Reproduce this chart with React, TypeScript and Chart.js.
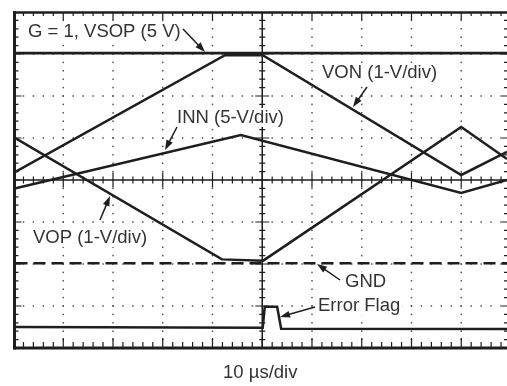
import React, { useEffect, useRef } from "react";
import { Chart, registerables } from "chart.js";

Chart.register(...registerables);

// Scope screen in division units: x 0..~9.92 (10 div, right edge cropped), y 0..8
const X_MAX = 9.92;
const Y_MAX = 8;

const vsopX = [0, 9.92];
const vsopY = [7.02, 7.02];

const vonX = [0, 4.25, 5.01, 9.0, 9.92];
const vonY = [4.17, 6.97, 6.97, 4.12, 4.67];

const vopX = [0, 4.19, 5.02, 9.0, 9.92];
const vopY = [5.02, 2.11, 2.08, 5.26, 4.5];

const innX = [0, 4.57, 9.0, 9.92];
const innY = [3.79, 5.07, 3.69, 4.0];

const gndX = [0, 9.92];
const gndY = [2.02, 2.02];

const flagX = [0, 5.01, 5.05, 5.3, 5.38, 9.92];
const flagY = [0.5, 0.48, 0.98, 0.98, 0.46, 0.45];

const xAxisLabel = "10 \u00b5s/div";

const annotations = [
  { text: "G = 1, VSOP (5 V)", x: 28, y: 37, ax1: 183, ay1: 29, ax2: 205, ay2: 52 },
  { text: "VON (1-V/div)", x: 322, y: 78, ax1: 367, ay1: 87, ax2: 353, ay2: 107 },
  { text: "INN (5-V/div)", x: 177, y: 123, ax1: 177, ay1: 127, ax2: 165, ay2: 150 },
  { text: "VOP (1-V/div)", x: 33, y: 243, ax1: 100, ay1: 220, ax2: 110, ay2: 196 },
  { text: "GND", x: 345, y: 287, ax1: 340, ay1: 280, ax2: 317, ay2: 264 },
  { text: "Error Flag", x: 318, y: 311, ax1: 315, ay1: 307, ax2: 280, ay2: 317 },
];

const FONT = '18.5px "Liberation Sans", Arial, sans-serif';
const INK = "#1e1e1e";
const TEXT = "#333333";

function pts(xs: number[], ys: number[]) {
  return xs.map((x, i) => ({ x, y: ys[i] }));
}

function drawArrow(ctx: CanvasRenderingContext2D, x1: number, y1: number, x2: number, y2: number) {
  const ang = Math.atan2(y2 - y1, x2 - x1);
  const L = 10;
  const W = 3.5;
  ctx.beginPath();
  ctx.moveTo(x1, y1);
  ctx.lineTo(x2 - Math.cos(ang) * (L - 2), y2 - Math.sin(ang) * (L - 2));
  ctx.lineWidth = 1.5;
  ctx.strokeStyle = INK;
  ctx.stroke();
  ctx.beginPath();
  ctx.moveTo(x2, y2);
  ctx.lineTo(x2 - Math.cos(ang) * L - Math.sin(ang) * W, y2 - Math.sin(ang) * L + Math.cos(ang) * W);
  ctx.lineTo(x2 - Math.cos(ang) * L + Math.sin(ang) * W, y2 - Math.sin(ang) * L - Math.cos(ang) * W);
  ctx.closePath();
  ctx.fillStyle = INK;
  ctx.fill();
}

const scopePlugin = {
  id: "scope",
  beforeDatasetsDraw(chart: any) {
    const { ctx, chartArea, scales } = chart;
    const xs = scales.x;
    const ys = scales.y;
    const { left, right, top, bottom } = chartArea;
    ctx.save();
    // dotted grid
    ctx.fillStyle = "#555";
    for (let i = 1; i <= 10; i++) {
      if (i === 5) continue;
      const px = xs.getPixelForValue(i);
      for (let j = 1; j < Y_MAX * 5; j++) {
        const py = ys.getPixelForValue(j / 5);
        ctx.fillRect(px - 0.75, py - 0.75, 1.5, 1.5);
      }
    }
    for (let j = 1; j < Y_MAX; j++) {
      if (j === 4) continue;
      const py = ys.getPixelForValue(j);
      for (let i = 1; i < 50; i++) {
        const px = xs.getPixelForValue(i / 5);
        ctx.fillRect(px - 0.75, py - 0.75, 1.5, 1.5);
      }
    }
    ctx.strokeStyle = INK;
    // center axes
    const cx = xs.getPixelForValue(5);
    const cy = ys.getPixelForValue(4);
    ctx.lineWidth = 1.5;
    ctx.beginPath();
    ctx.moveTo(cx, top);
    ctx.lineTo(cx, bottom);
    ctx.moveTo(left, cy);
    ctx.lineTo(right + 5, cy);
    ctx.stroke();
    ctx.lineWidth = 1.2;
    ctx.beginPath();
    for (let j = 1; j < Y_MAX * 5; j++) {
      const py = ys.getPixelForValue(j / 5);
      const len = j % 5 === 0 ? 7 : 3;
      ctx.moveTo(cx - len, py);
      ctx.lineTo(cx + len, py);
      const lb = j % 5 === 0 ? 8 : 5;
      ctx.moveTo(left, py);
      ctx.lineTo(left + lb, py);
      const rx = xs.getPixelForValue(10);
      const rb = j % 5 === 0 ? 9 : 7;
      ctx.moveTo(rx, py);
      ctx.lineTo(rx - rb, py);
    }
    for (let i = 1; i < 50; i++) {
      const px = xs.getPixelForValue(i / 5);
      const len = i % 5 === 0 ? 7.5 : 3.5;
      ctx.moveTo(px, cy - len);
      ctx.lineTo(px, cy + len);
      const tl = i % 5 === 0 ? 8 : 4;
      ctx.moveTo(px, top);
      ctx.lineTo(px, top + tl);
      const bl = i % 5 === 0 ? 10 : 6;
      ctx.moveTo(px, bottom);
      ctx.lineTo(px, bottom - bl);
    }
    ctx.stroke();
    // borders
    ctx.lineWidth = 3;
    ctx.beginPath();
    ctx.moveTo(left + 1, top - 1);
    ctx.lineTo(left + 1, bottom + 1.5);
    ctx.stroke();
    ctx.lineWidth = 2.5;
    ctx.beginPath();
    ctx.moveTo(left, top + 0.5);
    ctx.lineTo(right + 5, top + 0.5);
    ctx.stroke();
    ctx.lineWidth = 3;
    ctx.beginPath();
    ctx.moveTo(left, bottom);
    ctx.lineTo(right + 5, bottom);
    ctx.stroke();
    // white boxes behind labels
    ctx.font = FONT;
    ctx.fillStyle = "#ffffff";
    for (const a of annotations) {
      const w = ctx.measureText(a.text).width;
      ctx.fillRect(a.x - 2, a.y - 15, w + 4, 19);
    }
    ctx.restore();
  },
  afterDatasetsDraw(chart: any) {
    const { ctx } = chart;
    ctx.save();
    ctx.font = FONT;
    ctx.fillStyle = TEXT;
    ctx.textBaseline = "alphabetic";
    ctx.textAlign = "left";
    for (const a of annotations) {
      ctx.fillStyle = TEXT;
      ctx.fillText(a.text, a.x, a.y);
      drawArrow(ctx, a.ax1, a.ay1, a.ax2, a.ay2);
    }
    ctx.fillStyle = TEXT;
    ctx.fillText(xAxisLabel, 223, 378);
    ctx.restore();
  },
};

export default function App() {
  const ref = useRef<HTMLCanvasElement | null>(null);
  useEffect(() => {
    if (!ref.current) return;
    const line = (data: any, w: number, extra: any = {}) => ({
      data,
      showLine: true,
      borderColor: INK,
      borderWidth: w,
      pointRadius: 0,
      borderJoinStyle: "miter",
      borderCapStyle: "butt",
      tension: 0,
      fill: false,
      ...extra,
    });
    const chart = new Chart(ref.current, {
      type: "scatter",
      data: {
        datasets: [
          line(pts(vsopX, vsopY), 2.7),
          line(pts(gndX, gndY), 2.5, { borderDash: [12, 6], borderDashOffset: -2 }),
          line(pts(vonX, vonY), 2.5),
          line(pts(vopX, vopY), 2.5),
          line(pts(innX, innY), 2.5),
          line(pts(flagX, flagY), 2.5),
        ] as any,
      },
      options: {
        animation: false,
        responsive: false,
        devicePixelRatio: 1,
        layout: { padding: { left: 13.5, top: 12, right: 0, bottom: 38 } },
        plugins: { legend: { display: false }, tooltip: { enabled: false } },
        events: [],
        scales: {
          x: { type: "linear", min: 0, max: X_MAX, display: false },
          y: { type: "linear", min: 0, max: Y_MAX, display: false },
        },
      },
      plugins: [scopePlugin],
    });
    return () => chart.destroy();
  }, []);
  return (
    <div style={{ position: "fixed", left: 0, top: 0, width: 507, height: 386, background: "#fff" }}>
      <canvas ref={ref} width={507} height={386} style={{ display: "block" }} />
    </div>
  );
}
